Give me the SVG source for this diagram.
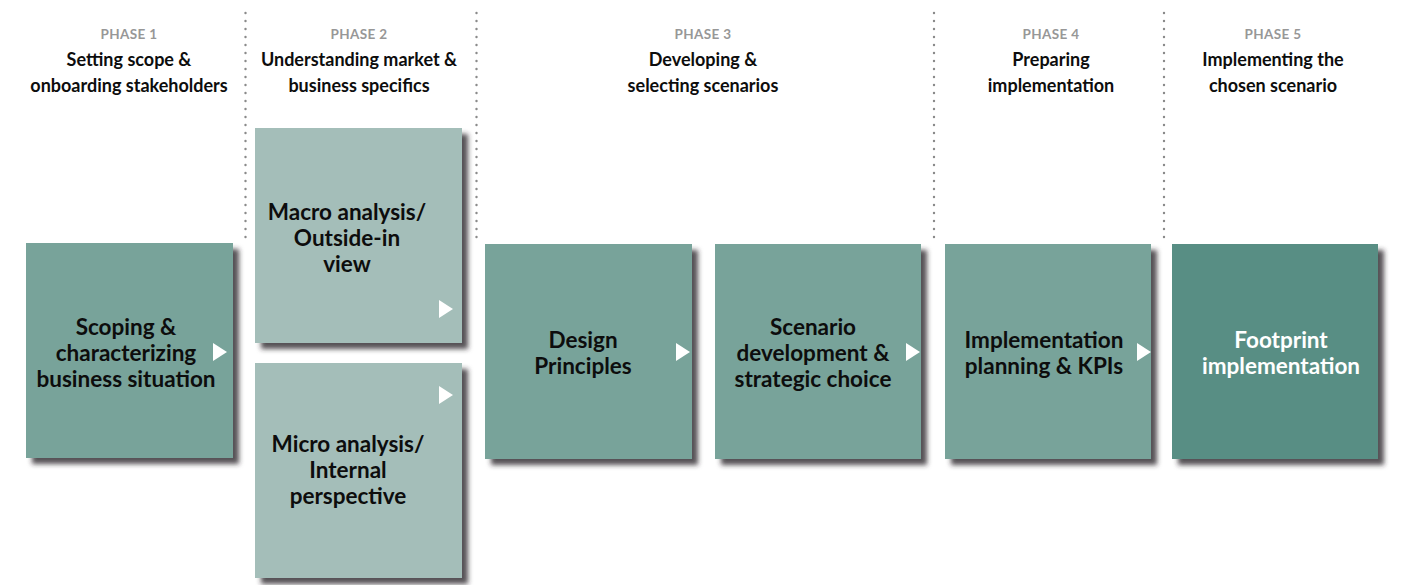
<svg xmlns="http://www.w3.org/2000/svg" width="1404" height="585" viewBox="0 0 1404 585">
  <defs>
    <filter id="shadow" x="-10%" y="-10%" width="130%" height="130%">
      <feDropShadow dx="6" dy="6" stdDeviation="2.5" flood-color="#2a262a" flood-opacity="0.8"/>
    </filter>
  </defs>
  <style>
    text { font-family: Lato, "Open Sans", "Liberation Sans", sans-serif; font-weight: 700; text-anchor: middle; }
    .phase { font-size: 13.5px; fill: #979797; letter-spacing: 0.4px; }
    .title { font-size: 18px; fill: #0d0d0d; }
    .label { font-size: 22.5px; fill: #0d0d0d; }
    .label-light { font-size: 22.5px; fill: #ffffff; }
    .box { fill: #78a39a; filter: url(#shadow); }
    .box-light { fill: #a4beb9; filter: url(#shadow); }
    .box-dark { fill: #588e84; filter: url(#shadow); }
    .arrow { fill: #ffffff; }
    .sep { stroke: #8a8a8a; stroke-width: 2.4; stroke-linecap: round; stroke-dasharray: 0 8; fill: none; }
  </style>

  <rect width="1404" height="585" fill="#ffffff"/>

  <!-- phase separators -->
  <g id="separators">
    <line class="sep" x1="245.5" y1="13" x2="245.5" y2="245"/>
    <line class="sep" x1="476.5" y1="13" x2="476.5" y2="245"/>
    <line class="sep" x1="934" y1="13" x2="934" y2="245"/>
    <line class="sep" x1="1164" y1="13" x2="1164" y2="245"/>
  </g>

  <!-- phase headers -->
  <g id="phase1">
    <text class="phase" x="129" y="39">PHASE 1</text>
    <text class="title" x="129" y="66">Setting scope &amp;</text>
    <text class="title" x="129" y="92">onboarding stakeholders</text>
  </g>
  <g id="phase2">
    <text class="phase" x="359" y="39">PHASE 2</text>
    <text class="title" x="359" y="66">Understanding market &amp;</text>
    <text class="title" x="359" y="92">business specifics</text>
  </g>
  <g id="phase3">
    <text class="phase" x="703" y="39">PHASE 3</text>
    <text class="title" x="703" y="66">Developing &amp;</text>
    <text class="title" x="703" y="92">selecting scenarios</text>
  </g>
  <g id="phase4">
    <text class="phase" x="1051" y="39">PHASE 4</text>
    <text class="title" x="1051" y="66">Preparing</text>
    <text class="title" x="1051" y="92">implementation</text>
  </g>
  <g id="phase5">
    <text class="phase" x="1273" y="39">PHASE 5</text>
    <text class="title" x="1273" y="66">Implementing the</text>
    <text class="title" x="1273" y="92">chosen scenario</text>
  </g>

  <!-- step boxes -->
  <g id="scoping">
    <rect class="box" x="26" y="243" width="207" height="215"/>
    <text class="label" x="126" y="335">Scoping &amp;</text>
    <text class="label" x="126" y="361">characterizing</text>
    <text class="label" x="126" y="387">business situation</text>
  </g>
  <g id="macro">
    <rect class="box-light" x="255" y="128" width="207" height="215"/>
    <text class="label" x="347" y="220">Macro analysis/</text>
    <text class="label" x="347" y="246">Outside-in</text>
    <text class="label" x="347" y="272">view</text>
  </g>
  <g id="micro">
    <rect class="box-light" x="255" y="363" width="207" height="215"/>
    <text class="label" x="348" y="452">Micro analysis/</text>
    <text class="label" x="348" y="478">Internal</text>
    <text class="label" x="348" y="504">perspective</text>
  </g>
  <g id="design">
    <rect class="box" x="485" y="244" width="207" height="215"/>
    <text class="label" x="583" y="348">Design</text>
    <text class="label" x="583" y="374">Principles</text>
  </g>
  <g id="scenario">
    <rect class="box" x="715" y="244" width="206" height="215"/>
    <text class="label" x="813" y="335">Scenario</text>
    <text class="label" x="813" y="361">development &amp;</text>
    <text class="label" x="813" y="387">strategic choice</text>
  </g>
  <g id="planning">
    <rect class="box" x="945" y="244" width="206" height="215"/>
    <text class="label" x="1044" y="348">Implementation</text>
    <text class="label" x="1044" y="374">planning &amp; KPIs</text>
  </g>
  <g id="footprint">
    <rect class="box-dark" x="1172" y="244" width="206" height="215"/>
    <text class="label-light" x="1281" y="348">Footprint</text>
    <text class="label-light" x="1281" y="374">implementation</text>
  </g>

  <!-- flow arrows -->
  <g id="connectors">
    <polygon class="arrow" points="213,343 227,352 213,361"/>
    <polygon class="arrow" points="439,300 453,309 439,318"/>
    <polygon class="arrow" points="439,386 453,395 439,404"/>
    <polygon class="arrow" points="676,343 690,352 676,361"/>
    <polygon class="arrow" points="906,343 920,352 906,361"/>
    <polygon class="arrow" points="1137,343 1151,352 1137,361"/>
  </g>
</svg>
